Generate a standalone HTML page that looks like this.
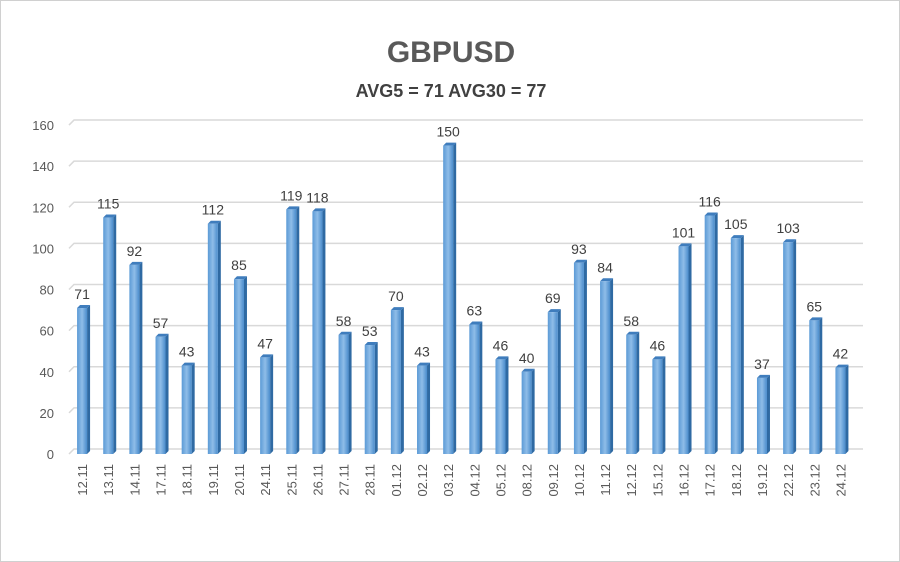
<!DOCTYPE html>
<html><head><meta charset="utf-8"><style>
body{margin:0;background:#fff;}
#wrap{position:relative;width:900px;height:562px;overflow:hidden;background:#fff;border:1px solid #d0d0d0;box-sizing:border-box;}
text{font-family:"Liberation Sans",sans-serif;}
</style></head><body>
<div id="wrap">
<svg id="chart" width="900" height="562">
<defs>
<linearGradient id="gf" x1="0" x2="1" y1="0" y2="0">
<stop offset="0" stop-color="#5b9ad6"/><stop offset="0.5" stop-color="#8fbde8"/><stop offset="1" stop-color="#4a8ccc"/>
</linearGradient>
</defs>
<text x="450" y="61" text-anchor="middle" font-size="30" font-weight="bold" fill="#595959">GBPUSD</text>
<text x="450" y="96" text-anchor="middle" font-size="18" font-weight="bold" fill="#404040">AVG5 = 71 AVG30 = 77</text>
<g id="grid"></g><g id="bars"></g><g id="labels"></g>
</svg>
</div>
<script>
const categories=["12.11","13.11","14.11","17.11","18.11","19.11","20.11","24.11","25.11","26.11","27.11","28.11","01.12","02.12","03.12","04.12","05.12","08.12","09.12","10.12","11.12","12.12","15.12","16.12","17.12","18.12","19.12","22.12","23.12","24.12"];
const values=[71,115,92,57,43,112,85,47,119,118,58,53,70,43,150,63,46,40,69,93,84,58,46,101,116,105,37,103,65,42];
const ticks=[0,20,40,60,80,100,120,140,160];
const NS="http://www.w3.org/2000/svg";
const y0=453,ppu=2.056,x0=68,step=26.15;
const y=v=>y0-v*ppu;
const xc=i=>x0+step*(i+0.5);
function mk(t,a,p){const e=document.createElementNS(NS,t);for(const k in a)e.setAttribute(k,a[k]);p.appendChild(e);return e;}
const G=document.getElementById('grid'),B=document.getElementById('bars'),L=document.getElementById('labels');
ticks.forEach(t=>{
  const g=mk('polyline',{points:`${x0},${y(t)} ${x0+5},${y(t)-5} 862,${y(t)-5}`,fill:'none',stroke:'#d9d9d9','stroke-width':1.5},G);
  
  
  const tx=mk('text',{x:53,y:y(t)+5,'text-anchor':'end','font-size':13,fill:'#595959'},G);
  tx.textContent=t;
  
  
});
values.forEach((v,i)=>{
  const cx=xc(i),l=cx-5,w=10,top=y(v);
  const g=mk('g',{},B);
  
  
  mk('polygon',{points:`${l+w},${top} ${l+w+3},${top-3} ${l+w+3},${y0-3} ${l+w},${y0}`,fill:'#2f6aa3'},g);
  mk('polygon',{points:`${l},${top} ${l+3},${top-3} ${l+w+3},${top-3} ${l+w},${top}`,fill:'#3f7dbd'},g);
  mk('rect',{x:l,y:top,width:w,height:y0-top,fill:'url(#gf)'},g);
  const t=mk('text',{x:cx,y:top-9,'text-anchor':'middle','font-size':14,fill:'#404040'},L);
  t.textContent=v;
  
  
  const c=mk('text',{x:cx+5,y:463,'text-anchor':'end','font-size':13,fill:'#595959',transform:`rotate(-90 ${cx+5} 463)`},L);
  c.textContent=categories[i];
  
  
});
</script>
</body></html>
